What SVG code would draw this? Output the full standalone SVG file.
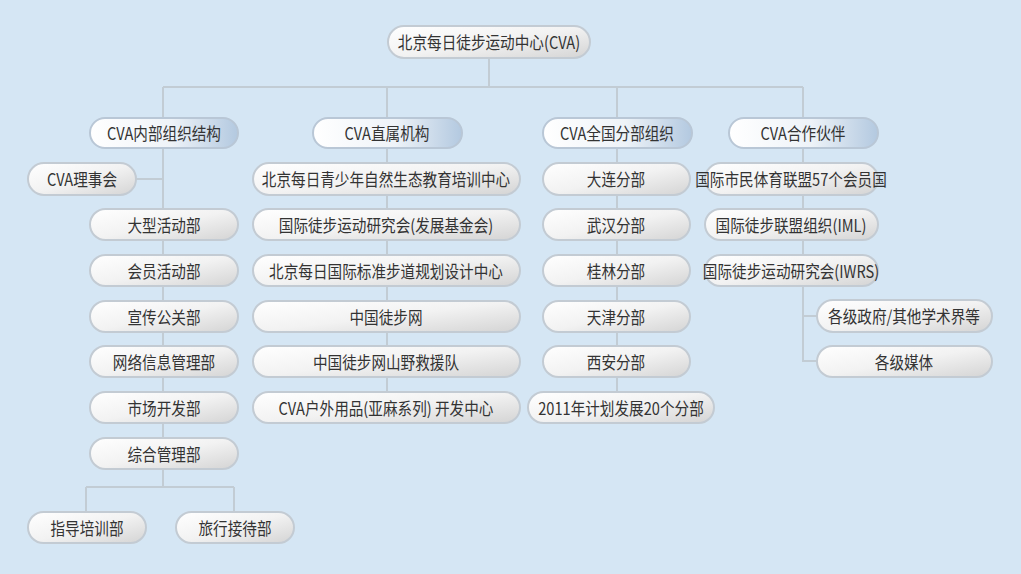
<svg xmlns="http://www.w3.org/2000/svg" width="1021" height="574" viewBox="0 0 1021 574">
<defs>
<linearGradient id="g" x1="0" y1="0" x2="1" y2="1"><stop offset="0" stop-color="#ffffff"/><stop offset="0.5" stop-color="#f2f2f2"/><stop offset="1" stop-color="#d4d4d4"/></linearGradient>
<linearGradient id="h" x1="0" y1="0" x2="1" y2="0"><stop offset="0" stop-color="#ffffff"/><stop offset="0.55" stop-color="#eef3f8"/><stop offset="1" stop-color="#b3c9e0"/></linearGradient>
<style>
.b rect{fill:url(#g);stroke:#c3cbd3;stroke-width:2}
.hd rect{fill:url(#h);stroke:#b9c7d6;stroke-width:2}
text{font-family:"Noto Sans CJK SC","Liberation Sans",sans-serif;font-size:17px;fill:#333;text-anchor:middle;dominant-baseline:central;transform-box:fill-box;transform-origin:center;transform:scaleX(0.86)}
.c path{fill:none;stroke:#c2ccd4;stroke-width:2}
</style>
</defs>
<rect width="1021" height="574" fill="#d5e6f4"/>
<g class="c">
<path d="M489 58V87M163 87H803M163 87V118M387 87V118M617 87V118M803 87V118"/>
<path d="M163 148V487M136 179H163M86 487H234M86 487V512M234 487V512"/>
<path d="M387 148V392"/>
<path d="M617 148V392"/>
<path d="M803 148V361H817M803 316H817"/>
</g>
<g id="root" class="b"><rect x="388" y="26" width="202" height="32" rx="16"/><text x="489" y="42">北京每日徒步运动中心(CVA)</text></g>
<g id="h1" class="hd"><rect x="90" y="118" width="148" height="30" rx="15"/><text x="164" y="133">CVA内部组织结构</text></g>
<g id="h2" class="hd"><rect x="313" y="118" width="149" height="30" rx="15"/><text x="387" y="133">CVA直属机构</text></g>
<g id="h3" class="hd"><rect x="543" y="118" width="149" height="30" rx="15"/><text x="617" y="133">CVA全国分部组织</text></g>
<g id="h4" class="hd"><rect x="729" y="118" width="149" height="30" rx="15"/><text x="803" y="133">CVA合作伙伴</text></g>
<g id="a0" class="b"><rect x="28" y="163" width="108" height="32" rx="16"/><text x="82" y="179">CVA理事会</text></g>
<g id="a1" class="b"><rect x="90" y="209" width="148" height="31" rx="15.5"/><text x="164" y="225">大型活动部</text></g>
<g id="a2" class="b"><rect x="90" y="255" width="148" height="31" rx="15.5"/><text x="164" y="271">会员活动部</text></g>
<g id="a3" class="b"><rect x="90" y="301" width="148" height="31" rx="15.5"/><text x="164" y="317">宣传公关部</text></g>
<g id="a4" class="b"><rect x="90" y="346" width="148" height="31" rx="15.5"/><text x="164" y="362">网络信息管理部</text></g>
<g id="a5" class="b"><rect x="90" y="392" width="148" height="31" rx="15.5"/><text x="164" y="408">市场开发部</text></g>
<g id="a6" class="b"><rect x="90" y="438" width="148" height="31" rx="15.5"/><text x="164" y="454">综合管理部</text></g>
<g id="a7" class="b"><rect x="28" y="512" width="118" height="31" rx="15.5"/><text x="87" y="528">指导培训部</text></g>
<g id="a8" class="b"><rect x="176" y="512" width="118" height="31" rx="15.5"/><text x="235" y="528">旅行接待部</text></g>
<g id="b1" class="b"><rect x="253" y="163" width="267" height="32" rx="16"/><text x="386" y="179">北京每日青少年自然生态教育培训中心</text></g>
<g id="b2" class="b"><rect x="253" y="209" width="267" height="31" rx="15.5"/><text x="386" y="225">国际徒步运动研究会(发展基金会)</text></g>
<g id="b3" class="b"><rect x="253" y="255" width="267" height="31" rx="15.5"/><text x="386" y="271">北京每日国际标准步道规划设计中心</text></g>
<g id="b4" class="b"><rect x="253" y="301" width="267" height="31" rx="15.5"/><text x="386" y="317">中国徒步网</text></g>
<g id="b5" class="b"><rect x="253" y="346" width="267" height="31" rx="15.5"/><text x="386" y="362">中国徒步网山野救援队</text></g>
<g id="b6" class="b"><rect x="253" y="392" width="267" height="31" rx="15.5"/><text x="386" y="408">CVA户外用品(亚麻系列) 开发中心</text></g>
<g id="c1" class="b"><rect x="543" y="163" width="147" height="32" rx="16"/><text x="616" y="179">大连分部</text></g>
<g id="c2" class="b"><rect x="543" y="209" width="147" height="31" rx="15.5"/><text x="616" y="225">武汉分部</text></g>
<g id="c3" class="b"><rect x="543" y="255" width="147" height="31" rx="15.5"/><text x="616" y="271">桂林分部</text></g>
<g id="c4" class="b"><rect x="543" y="301" width="147" height="31" rx="15.5"/><text x="616" y="317">天津分部</text></g>
<g id="c5" class="b"><rect x="543" y="346" width="147" height="31" rx="15.5"/><text x="616" y="362">西安分部</text></g>
<g id="c6" class="b"><rect x="528" y="392" width="186" height="31" rx="15.5"/><text x="621" y="408">2011年计划发展20个分部</text></g>
<g id="d1" class="b"><rect x="705" y="163" width="173" height="32" rx="16"/><text x="791" y="179">国际市民体育联盟57个会员国</text></g>
<g id="d2" class="b"><rect x="705" y="209" width="173" height="31" rx="15.5"/><text x="791" y="225">国际徒步联盟组织(IML)</text></g>
<g id="d3" class="b"><rect x="705" y="255" width="173" height="31" rx="15.5"/><text x="791" y="271">国际徒步运动研究会(IWRS)</text></g>
<g id="d4" class="b"><rect x="817" y="300" width="175" height="32" rx="16"/><text x="904" y="316">各级政府/其他学术界等</text></g>
<g id="d5" class="b"><rect x="817" y="346" width="175" height="31" rx="15.5"/><text x="904" y="362">各级媒体</text></g>
</svg>
